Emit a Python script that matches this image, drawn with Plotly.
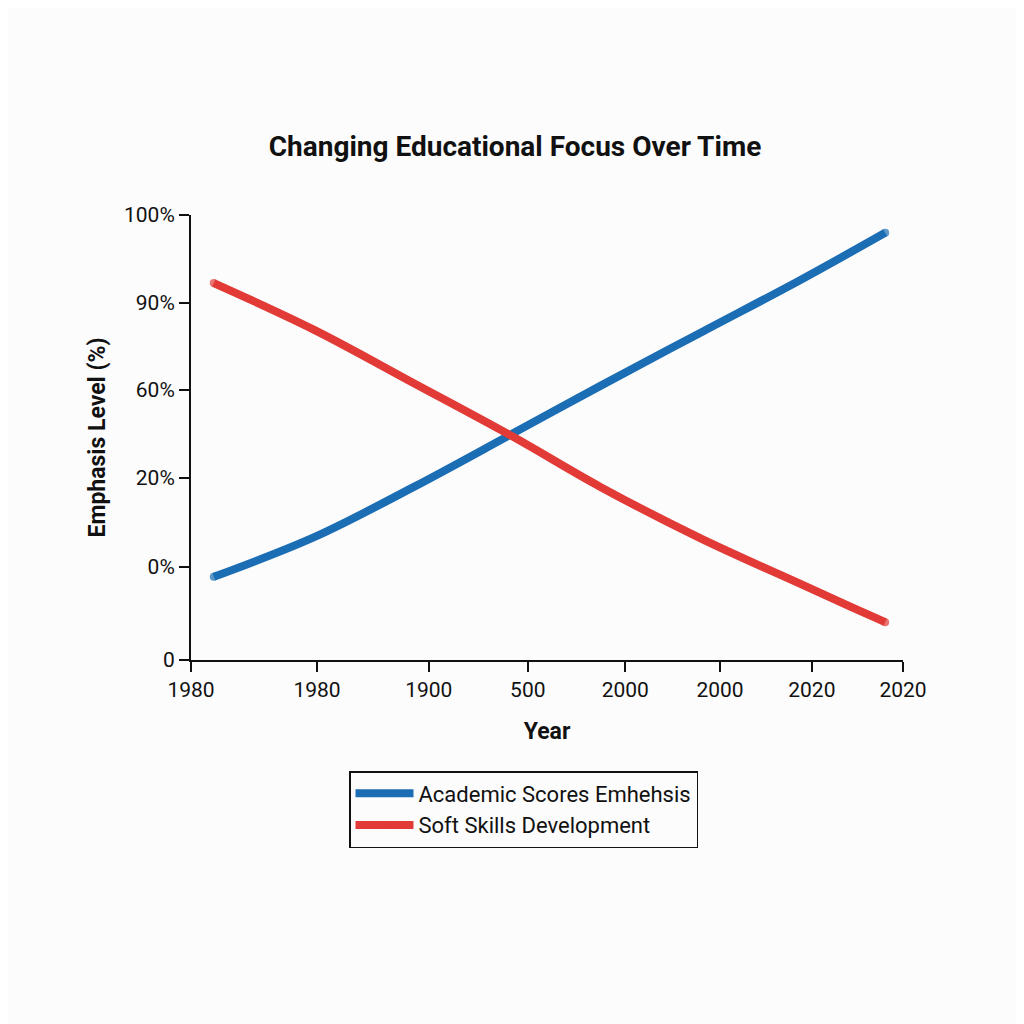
import plotly.graph_objects as go

# Positions along the x axis (0-100 scale of the axis length) and their labels
x_tick_pos = [0, 17.7, 33.4, 47.3, 61.0, 74.3, 87.2, 100]
x_tick_labels = ["1980", "1980", "1900", "500", "2000", "2000", "2020", "2020"]

y_tick_pos = [0, 20.9, 40.9, 60.7, 80.2, 100]
y_tick_labels = ["0", "0%", "20%", "60%", "90%", "100%"]

# Series
academic_x = [3.2, 17.3, 31.3, 45.3, 57.5, 71.5, 85.6, 97.5]
academic = [18.7, 27.6, 38.9, 51.0, 61.6, 73.5, 85.4, 96.0]
soft_x = [3.2, 17.3, 31.3, 45.3, 57.5, 71.5, 85.6, 92.6, 97.5]
soft_skills = [84.7, 74.2, 62.2, 50.1, 38.9, 27.4, 17.1, 12.0, 8.5]

BLUE = "#1b6db4"
RED = "#e23a36"
FONT = "Roboto"


def ends(n):
    # round caps at both line ends
    return [8] + [0] * (n - 2) + [8]


fig = go.Figure()
fig.add_trace(go.Scatter(x=academic_x, y=academic, name="Academic Scores Emhehsis",
                         mode="lines+markers", line=dict(color=BLUE, width=8, shape="spline"),
                         marker=dict(size=ends(len(academic)), color=BLUE, line=dict(width=0))))
fig.add_trace(go.Scatter(x=soft_x, y=soft_skills, name="Soft Skills Development",
                         mode="lines+markers", line=dict(color=RED, width=8, shape="spline"),
                         marker=dict(size=ends(len(soft_skills)), color=RED, line=dict(width=0))))

fig.update_layout(
    width=1024, height=1024,
    paper_bgcolor="#fcfcfc", plot_bgcolor="#fcfcfc",
    margin=dict(l=183, r=129, t=207, b=372),
    font=dict(family=FONT, size=21, color="#111111"),
    title=dict(text="<b>Changing Educational Focus Over Time</b>",
               x=(515 - 8) / 1024, xanchor="center", y=1 - 138 / 1024, yanchor="middle",
               yref="container", font=dict(size=28, family=FONT, color="#111111")),
    xaxis=dict(range=[0, 100], tickvals=x_tick_pos, ticktext=x_tick_labels,
               showgrid=False, zeroline=False, showline=True, linecolor="#111111",
               linewidth=2, ticks="outside", ticklen=10, tickwidth=2, tickcolor="#111111",
               title=dict(text="<b>Year</b>", standoff=22, font=dict(size=23))),
    yaxis=dict(range=[0, 100], tickvals=y_tick_pos, ticktext=y_tick_labels,
               showgrid=False, zeroline=False, showline=True, linecolor="#111111",
               linewidth=2, ticks="outside", ticklen=10, tickwidth=2, tickcolor="#111111",
               title=dict(text="<b>Emphasis Level (%)</b>", standoff=12, font=dict(size=23))),
    legend=dict(x=(349 - 191) / 712, y=(660 - 771) / 445, xanchor="left", yanchor="top",
                bordercolor="#111111", borderwidth=1.5, bgcolor="#fcfcfc",
                font=dict(size=22), tracegroupgap=0, itemwidth=58),
    showlegend=True,
)

fig.write_html("out.html")
